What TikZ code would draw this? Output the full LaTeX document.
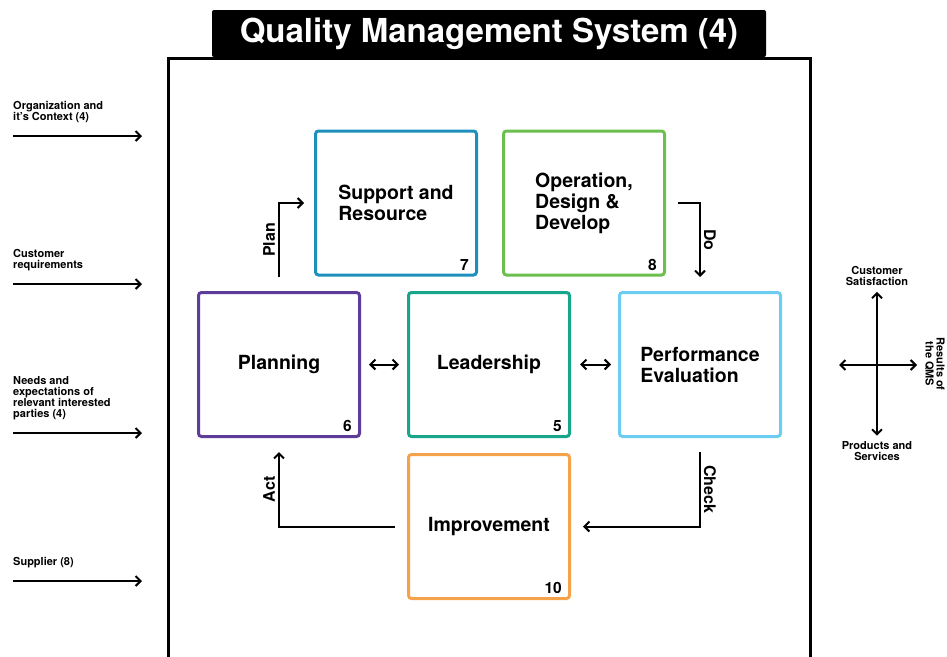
\documentclass[tikz,border=0pt]{standalone}
\usepackage{fontspec}
\setmainfont{TeX Gyre Heros}
\definecolor{qms_support}{RGB}{30, 143, 189}
\definecolor{qms_operation}{RGB}{108, 191, 76}
\definecolor{qms_planning}{RGB}{94, 61, 154}
\definecolor{qms_leadership}{RGB}{23, 165, 140}
\definecolor{qms_performance}{RGB}{108, 205, 240}
\definecolor{qms_improvement}{RGB}{245, 163, 75}
\usepackage{tikz}
\usetikzlibrary{arrows.meta, positioning, calc}

\begin{document}
\begin{tikzpicture}[x=1pt, y=-1pt, font=\bfseries,
            box/.style={draw, line width=3pt, rounded corners=3pt, align=left,
                        minimum width=161pt, minimum height=144pt,
                        font=\fontsize{19.5}{21}\selectfont\bfseries},
            num/.style={anchor=south east, inner sep=0pt,
                        font=\fontsize{15.5}{16}\selectfont\bfseries},
            flow/.style={line width=2pt, -{Straight Barb[length=5pt, width=10pt]}},
            both/.style={line width=2pt, {Straight Barb[length=5pt, width=10pt]}-{Straight Barb[length=5pt, width=10pt]}},
            steplabel/.style={anchor=south, inner sep=3pt,
                        font=\fontsize{16}{16}\selectfont\bfseries},
            input/.style={anchor=south west, inner sep=0pt, align=left,
                        font=\fontsize{11}{11}\selectfont\bfseries},
            result/.style={inner sep=0pt, align=center,
                        font=\fontsize{11}{11}\selectfont\bfseries}]
  \useasboundingbox (0,0) rectangle (947,656);

  % frame and title
  \draw[line width=3pt] (168,58) rectangle (810,680);
  \node[fill=black, text=white, rounded corners=2pt, minimum width=554pt,
        minimum height=47pt, inner sep=0pt,
        font=\fontsize{33}{36}\selectfont\bfseries] (title) at (489,33.5)
    {Quality Management System (4)};

  % process boxes
  \node[box, draw=qms_support] (support) at (396,203)
    {Support and\\Resource};
  \node[box, draw=qms_operation] (operation) at (584,203)
    {Operation,\\Design \&\\Develop};
  \node[box, draw=qms_planning] (planning) at (279,364.5)
    {Planning};
  \node[box, draw=qms_leadership] (leadership) at (489,364.5)
    {Leadership};
  \node[box, draw=qms_performance] (performance) at (700,364.5)
    {Performance\\Evaluation};
  \node[box, draw=qms_improvement] (improvement) at (489,526.5)
    {Improvement};

  % clause numbers
  \node[num] at ([shift={(-9,-6)}]support.south east) {7};
  \node[num] at ([shift={(-9,-6)}]operation.south east) {8};
  \node[num] at ([shift={(-9,-6)}]planning.south east) {6};
  \node[num] at ([shift={(-9,-6)}]leadership.south east) {5};
  \node[num] at ([shift={(-9,-6)}]improvement.south east) {10};

  % plan - do - check - act
  \draw[flow] ([yshift=14pt]planning.north) |- ([xshift=-10pt]support.west)
    node[steplabel, rotate=90, pos=0.25] {Plan};
  \draw[flow] ([xshift=12pt]operation.east) -| ([yshift=14pt]performance.north)
    node[steplabel, rotate=-90, pos=0.75] {Do};
  \draw[flow] ([yshift=-14pt]performance.south) |- ([xshift=12pt]improvement.east)
    node[steplabel, rotate=-90, pos=0.25] {Check};
  \draw[flow] ([xshift=-12pt]improvement.west) -| ([yshift=-14pt]planning.south)
    node[steplabel, rotate=90, pos=0.75] {Act};

  \draw[both] ([xshift=8pt]planning.east) -- ([xshift=-8pt]leadership.west);
  \draw[both] ([xshift=9pt]leadership.east) -- ([xshift=-7pt]performance.west);

  % inputs
  \node[input] (context) at (13,123) {Organization and\\it's Context (4)};
  \node[input] (customer) at (13,271) {Customer\\requirements};
  \node[input] (needs) at (13,420) {Needs and\\expectations of\\relevant interested\\parties (4)};
  \node[input] (supplier) at (13,568) {Supplier (8)};
  \draw[flow] (context.south west) ++(0,13) coordinate (in1) -- (142,136);
  \draw[flow] (customer.south west) ++(0,13) coordinate (in2) -- (142,284);
  \draw[flow] (needs.south west) ++(0,13) coordinate (in3) -- (142,433);
  \draw[flow] (supplier.south west) ++(0,13) coordinate (in4) -- (142,581);

  % results
  \coordinate (res) at (877,365);
  \node[result] (satisfaction) at (877,276) {Customer\\Satisfaction};
  \node[result] (products) at (877,451.5) {Products and\\Services};
  \node[result, rotate=-90] (qms) at (935,364) {Results of\\the QMS};
  \draw[both] ([yshift=-6pt]satisfaction.south) -- ([yshift=6pt]products.north);
  \draw[both] (839,365) -- (917,365);
\end{tikzpicture}
\end{document}
